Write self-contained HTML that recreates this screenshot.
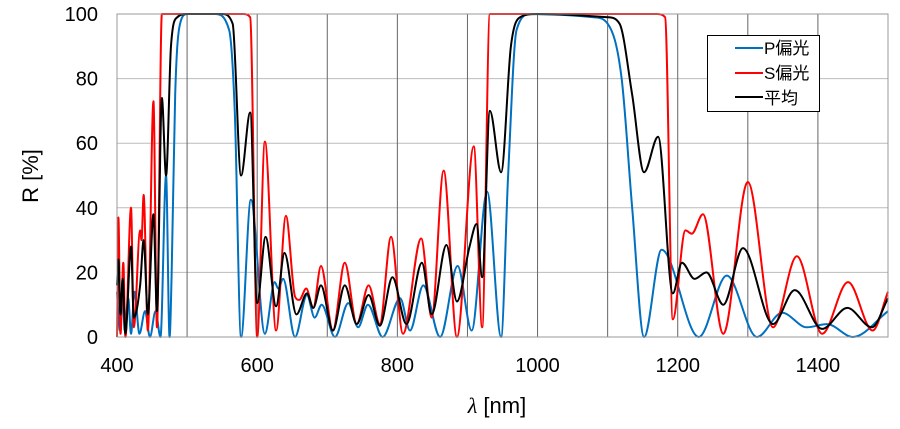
<!DOCTYPE html>
<html><head><meta charset="utf-8">
<style>
body{margin:0;background:#fff;width:900px;height:424px;overflow:hidden;font-family:"Liberation Sans","Noto Sans CJK JP",sans-serif;}
svg text{font-family:"Liberation Sans","Noto Sans CJK JP",sans-serif;}
</style></head>
<body>
<svg id="chart" width="900" height="424" viewBox="0 0 900 424" xmlns="http://www.w3.org/2000/svg">
  <g id="grid"></g>
  <g id="series"></g>
  <rect x="117" y="14" width="771" height="323" fill="none" stroke="#999" stroke-width="1"/>
  <g id="ticks"></g>
  <text x="38" y="176" font-size="22" text-anchor="middle" transform="rotate(-90 38 176)">R [%]</text>
  <text x="497" y="413" font-size="22" text-anchor="middle"><tspan font-style="italic" font-family="Liberation Serif, serif">λ</tspan> [nm]</text>
  <g>
    <rect x="707.5" y="35.5" width="112" height="76" fill="#fff" stroke="#000" stroke-width="1"/>
    <g>
      <line x1="735" y1="48" x2="763" y2="48" stroke="#0070C0" stroke-width="2"/>
      <text x="764" y="54" font-size="17">P偏光</text>
    </g>
    <g>
      <line x1="735" y1="73" x2="763" y2="73" stroke="#FF0000" stroke-width="2"/>
      <text x="764" y="79" font-size="17">S偏光</text>
    </g>
    <g>
      <line x1="735" y1="97" x2="763" y2="97" stroke="#000" stroke-width="2"/>
      <text x="764" y="104" font-size="17">平均</text>
    </g>
  </g>
</svg>
<script>
const xTicks = [400,600,800,1000,1200,1400];
const xGrid = [500,600,700,800,900,1000,1100,1200,1300,1400];
const yTicks = [0,20,40,60,80,100];
const pX = [400,404,408,411,416,420,425,432,440,447,455,462,470,475,478,483,490,500,540,560,568,577,591,611,625,630,637,654,671,682,692,711,730,744,758,779,804,818,837,861,886,906,928,948,958,970,990,1080,1100,1120,1135,1152,1177,1230,1270,1313,1349,1384,1413,1450,1500];
const pY = [14,2,14,2,12,1,14,1,8,0,8,0,50,0,20,75,97,100,100,95,70,0,42.5,1,17,15,18,0,13,6,10,0,10.5,3,10,0,12,2,16,0,22,2,45,0,50,95,100,99,97,80,40,0,27,0,19,0,7.5,3,4,0,8];
const sX = [400,402,405,409,412,420,424,433,435,438,444,452,457,464,470,580,590,600,611,627,641,654,660,670,680,691,708,725,742,759,775,791,808,834,849,866,885,909,921,932,940,1170,1182,1193,1211,1220,1236,1265,1300,1336,1370,1406,1443,1478,1500];
const sY = [0,37,1,23,0,40,3,33,30,44,2,73,3,100,100,100,99,0,60.5,2,37.5,12.5,11.5,15,9,22,2,23,4,16,4,31,1,30.5,6,51.5,0,59,3,100,100,100,99,5.5,33,32,38,1,48,3,25,1,17,2,14];
const aX = [400,402,405,408,412,420,424,433,438,444,452,457,464,470,477,486,500,550,565,577,590,600,612,627,639,656,671,680,691,708,725,742,759,775,793,813,835,849,870,885,903,913,921,932,948,962,975,1000,1100,1117,1135,1152,1172,1193,1206,1224,1241,1265,1293,1336,1367,1406,1442,1477,1500];
const aY = [16,24,7,18,1,28,6,16,30,7,38,8,74,50,90,99,100,100,97,50,69.5,10.5,31,9.5,26,7,13.5,9,16,2,16,4,13,3.5,18.5,4,23,7,28.5,11,28,35,18.5,70,51,90,99,100,99,97,75,51,62,13.5,23,18,20,10,27.5,4,14.5,2.5,9,3,12];

const X0=117,X1=888,Y0=337,Y1=14;
function xs(v){return X0+(v-400)/(1500-400)*(X1-X0);}
function ys(v){return Y0-v/100*(Y0-Y1);}
const NS="http://www.w3.org/2000/svg";

function monotonePath(xa,ya){
  const n=xa.length, px=xa.map(xs), py=ya.map(ys);
  const d=[],m=new Array(n);
  for(let i=0;i<n-1;i++) d.push((py[i+1]-py[i])/(px[i+1]-px[i]));
  m[0]=d[0]; m[n-1]=d[n-2];
  for(let i=1;i<n-1;i++){ m[i]=(d[i-1]*d[i]<=0)?0:(d[i-1]+d[i])/2; }
  for(let i=0;i<n-1;i++){
    if(d[i]===0){m[i]=0;m[i+1]=0;continue;}
    const a=m[i]/d[i],b=m[i+1]/d[i],s=a*a+b*b;
    if(s>9){const t=3/Math.sqrt(s);m[i]=t*a*d[i];m[i+1]=t*b*d[i];}
  }
  let p="M"+px[0].toFixed(2)+","+py[0].toFixed(2);
  for(let i=0;i<n-1;i++){
    const h=(px[i+1]-px[i])/3;
    p+=" C"+(px[i]+h).toFixed(2)+","+(py[i]+m[i]*h).toFixed(2)+" "+(px[i+1]-h).toFixed(2)+","+(py[i+1]-m[i+1]*h).toFixed(2)+" "+px[i+1].toFixed(2)+","+py[i+1].toFixed(2);
  }
  return p;
}

const grid=document.getElementById('grid');
yTicks.forEach(function(t){
  if(t===0) return;
  const l=document.createElementNS(NS,'line');
  
  
  l.setAttribute('x1',X0);l.setAttribute('x2',X1);
  l.setAttribute('y1',ys(t));l.setAttribute('y2',ys(t));
  l.setAttribute('stroke','#bbb');l.setAttribute('stroke-width','1');
  grid.appendChild(l);
});
xGrid.forEach(function(t){
  const l=document.createElementNS(NS,'line');
  
  
  l.setAttribute('x1',xs(t));l.setAttribute('x2',xs(t));
  l.setAttribute('y1',Y1);l.setAttribute('y2',Y0);
  l.setAttribute('stroke','#666');l.setAttribute('stroke-width','1');
  grid.appendChild(l);
});

const ticks=document.getElementById('ticks');
xTicks.forEach(function(t){
  const tx=document.createElementNS(NS,'text');
  
  
  tx.setAttribute('x',xs(t));tx.setAttribute('y',372);
  tx.setAttribute('font-size','20');tx.setAttribute('text-anchor','middle');
  tx.textContent=t;
  ticks.appendChild(tx);
});
yTicks.forEach(function(t){
  const tx=document.createElementNS(NS,'text');
  
  
  tx.setAttribute('x',98);tx.setAttribute('y',ys(t)+7);
  tx.setAttribute('font-size','20');tx.setAttribute('text-anchor','end');
  tx.textContent=t;
  ticks.appendChild(tx);
});

const ser=document.getElementById('series');
function addLine(xa,ya,color,name){
  const p=document.createElementNS(NS,'path');
  
  
  p.setAttribute('d',monotonePath(xa,ya));
  p.setAttribute('fill','none');p.setAttribute('stroke',color);
  p.setAttribute('stroke-width','2');p.setAttribute('stroke-linejoin','round');
  ser.appendChild(p);
}
addLine(pX,pY,'#0070C0','p-polarization-line');
addLine(sX,sY,'#FF0000','s-polarization-line');
addLine(aX,aY,'#000000','average-line');
</script>
</body></html>
